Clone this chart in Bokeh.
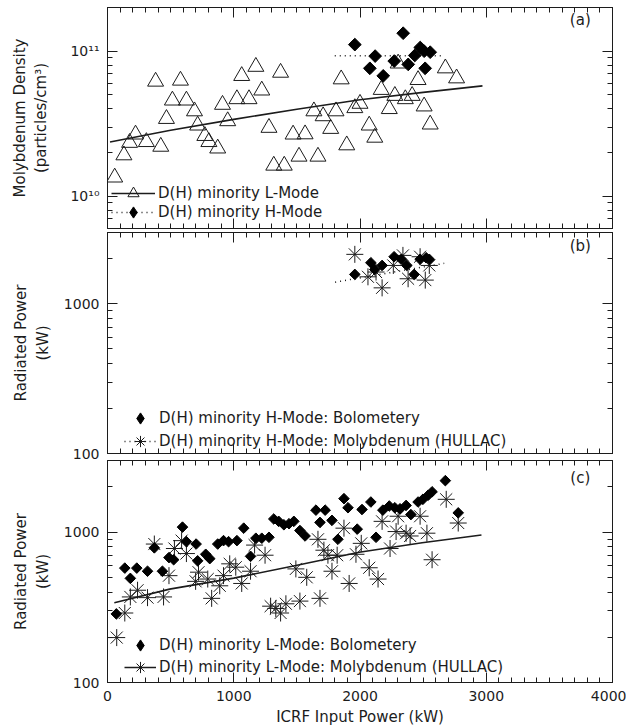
import numpy as np
from bokeh.plotting import figure
from bokeh.layouts import column
from bokeh.models import (Range1d, LogAxis, LinearAxis, FixedTicker, Legend,
                          LegendItem, Label)
from bokeh.embed import file_html
from bokeh.resources import INLINE

# ---------------- data ----------------
# panel (a): molybdenum density
a_lmode_x = [57, 130, 175, 222, 308, 422, 381, 467, 514, 578, 625, 689, 714, 771, 803,
             873, 911, 952, 1025, 1063, 1121, 1175, 1222, 1279, 1317, 1400, 1371, 1470,
             1517, 1565, 1635, 1667, 1708, 1768, 1810, 1851, 1895, 1959, 2000, 2073,
             2117, 2168, 2232, 2276, 2302, 2359, 2413, 2460, 2508, 2556, 2676, 2765]
a_lmode_y = [1.35e10, 1.92e10, 2.34e10, 2.67e10, 2.37e10, 2.20e10, 6.18e10, 3.42e10,
             4.58e10, 6.28e10, 4.58e10, 3.86e10, 3.08e10, 2.61e10, 2.37e10, 2.14e10,
             4.28e10, 3.30e10, 4.68e10, 6.76e10, 4.68e10, 7.82e10, 5.37e10, 2.97e10,
             1.63e10, 1.63e10, 7.12e10, 2.67e10, 1.88e10, 2.68e10, 3.86e10, 1.88e10,
             3.57e10, 2.92e10, 3.86e10, 6.41e10, 2.25e10, 4.06e10, 4.35e10, 3.08e10,
             2.54e10, 5.42e10, 4.0e10, 4.93e10, 8.24e10, 4.68e10, 4.93e10, 6.34e10,
             4.17e10, 3.13e10, 7.63e10, 6.51e10]
a_hmode_x = [1959, 2078, 2120, 2184, 2271, 2342, 2382, 2434, 2477, 2508, 2516, 2556]
a_hmode_y = [1.11e11, 7.62e10, 9.25e10, 6.76e10, 8.55e10, 1.33e11, 8.11e10, 9.34e10,
             1.06e11, 1.0e11, 7.62e10, 9.84e10]
a_lfit_x = [20, 500, 1000, 1500, 2000, 2500, 2970]
a_lfit_y = [2.37e10, 2.85e10, 3.39e10, 3.98e10, 4.63e10, 5.2e10, 5.77e10]
a_hfit_x = [1800, 2640]
a_hfit_y = [9.3e10, 9.3e10]

# panel (b): H-mode radiated power
b_bolo_x = [1959, 2086, 2117, 2175, 2270, 2327, 2371, 2429, 2476, 2524, 2549]
b_bolo_y = [1574, 1884, 1698, 1807, 2066, 1986, 1807, 1574, 1986, 2036, 1986]
b_hull_x = [1959, 2063, 2127, 2175, 2264, 2340, 2381, 2476, 2517, 2549]
b_hull_y = [2143, 1517, 1633, 1280, 1807, 2109, 1472, 2066, 1442, 1807]
b_fit_x = [1803, 2667]
b_fit_y = [1397, 1866]

# panel (c): L-mode radiated power
c_bolo_x = [70, 137, 181, 232, 317, 371, 435, 487, 524, 594, 625, 702, 714, 778, 810,
            873, 919, 959, 1025, 1079, 1133, 1175, 1222, 1279, 1317, 1356, 1397, 1438,
            1476, 1524, 1565, 1651, 1683, 1724, 1778, 1825, 1873, 1905, 1978, 2016,
            2086, 2127, 2181, 2232, 2276, 2317, 2365, 2403, 2460, 2498, 2540, 2571,
            2676, 2778]
c_bolo_y = [286, 577, 493, 577, 550, 787, 550, 678, 656, 1081, 865, 834, 645, 713, 667,
            834, 879, 865, 879, 1064, 691, 912, 912, 925, 1225, 1181, 1121, 1139, 1181,
            1026, 944, 1402, 1162, 1402, 1199, 897, 1672, 1455, 1048, 1416, 1588, 925,
            1402, 1494, 1455, 1432, 1507, 1310, 1588, 1655, 1762, 1857, 2204, 1345]
c_hull_x = [73, 137, 181, 238, 317, 371, 444, 487, 530, 587, 625, 698, 721, 794, 825,
            889, 919, 968, 1016, 1063, 1133, 1165, 1248, 1292, 1333, 1371, 1413, 1492,
            1524, 1578, 1667, 1683, 1714, 1746, 1778, 1819, 1873, 1914, 1968, 2010,
            2073, 2143, 2175, 2238, 2286, 2302, 2365, 2397, 2476, 2530, 2571, 2683, 2778]
c_hull_y = [199, 290, 371, 411, 367, 834, 371, 514, 779, 879, 721, 471, 542, 488, 363,
            440, 514, 616, 585, 456, 550, 821, 703, 322, 311, 290, 334, 570, 348, 501,
            897, 363, 759, 703, 550, 703, 1064, 456, 713, 843, 580, 488, 1181, 779, 1010,
            1277, 985, 944, 1277, 985, 656, 1655, 1151]
c_fit_x = [54, 492, 1000, 1492, 1994, 2492, 2962]
c_fit_y = [339, 418, 495, 601, 736, 851, 959]

x_ticks = [0, 1000, 2000, 3000, 4000]
x_tick_labels = ["0", "1000", "2000", "3000", "4000"]
a_ticks = [1e10, 1e11]
a_tick_labels = ["10\u00b9\u2070", "10\u00b9\u00b9"]
p_ticks = [100, 1000]
p_tick_labels = ["100", "1000"]

# ---------------- styling ----------------
FONT = "DejaVu Sans"
INK = "#1c1c1c"
TICK_FS = "14px"
TEXT_FS = "15px"
KEY_H = 28

x_minor = [v for v in range(0, 4001, 100) if v % 1000]


def log_minor(lo, hi):
    out = []
    dec = 10.0 ** np.floor(np.log10(lo))
    while dec <= hi:
        for k in range(2, 10):
            v = k * dec
            if lo <= v <= hi:
                out.append(v)
        dec *= 10
    return out


def style_axis(ax, show_labels, ticks=None, labels=None):
    ax.major_tick_in = 10
    ax.major_tick_out = 0
    ax.minor_tick_in = 5
    ax.minor_tick_out = 0
    ax.axis_line_color = INK
    ax.major_tick_line_color = INK
    ax.minor_tick_line_color = INK
    ax.major_label_text_font = FONT
    ax.major_label_text_color = INK
    ax.axis_label_text_font = FONT
    ax.axis_label_text_font_style = "normal"
    ax.axis_label_text_font_size = TEXT_FS
    ax.axis_label_text_color = INK
    if show_labels:
        ax.major_label_text_font_size = TICK_FS
        ax.major_label_standoff = 8
        ax.major_label_overrides = {t: l for t, l in zip(ticks, labels)}
    else:
        ax.major_label_text_font_size = "1px"
        ax.major_label_text_alpha = 0
        ax.major_label_standoff = 0


xr = Range1d(0, 4000)
x_ticker = FixedTicker(ticks=x_ticks, minor_ticks=x_minor)


def make_fig(yr, ticks, tick_labels, ylabel, show_x, fh, top, bottom, ystand):
    lo, hi = yr.start, yr.end
    yt = FixedTicker(ticks=ticks, minor_ticks=log_minor(lo, hi))
    p = figure(frame_width=505, frame_height=fh, x_range=xr, y_range=yr,
               y_axis_type="log", output_backend="svg", toolbar_location=None,
               min_border_left=107, min_border_right=14, min_border_top=top,
               min_border_bottom=bottom, background_fill_color="white",
               border_fill_color="white")
    p.grid.visible = False
    p.outline_line_color = INK
    p.yaxis.ticker = yt
    style_axis(p.yaxis[0], True, ticks, tick_labels)
    p.yaxis.axis_label = ylabel
    p.yaxis.axis_label_standoff = ystand
    p.xaxis.ticker = x_ticker
    style_axis(p.xaxis[0], show_x, x_ticks, x_tick_labels)
    if show_x:
        p.xaxis.axis_label = "ICRF Input Power (kW)"
        p.xaxis.axis_label_standoff = 4
    ra = LogAxis(ticker=yt)
    style_axis(ra, False)
    p.add_layout(ra, "right")
    ta = LinearAxis(ticker=x_ticker)
    style_axis(ta, False)
    p.add_layout(ta, "above")
    return p


def add_key(p, label, renderers, x, y_center, gw):
    # one legend per entry so that each row can be placed like the original
    p.add_layout(Legend(items=[LegendItem(label=label, renderers=renderers)],
                        location=(x, y_center - KEY_H // 2), border_line_alpha=0,
                        background_fill_alpha=0, padding=0, margin=0, spacing=0,
                        glyph_width=gw, glyph_height=KEY_H, label_height=KEY_H,
                        label_standoff=3, label_text_font=FONT,
                        label_text_font_size=TEXT_FS, label_text_color=INK))


def panel_label(p, text, y):
    p.add_layout(Label(x=3745, y=y, text=text, text_align="center",
                       text_baseline="middle", text_font=FONT,
                       text_font_size=TEXT_FS, text_color=INK))


def diamond_key(p):
    # legend-only key glyph: a single undefined point that is never drawn
    return p.scatter([np.nan], [np.nan], marker="diamond", size=10,
                     fill_color="black", line_color="black")


# ---------------- panel (a) ----------------
pa = make_fig(Range1d(6e9, 2e11), a_ticks, a_tick_labels,
              "Molybdenum Density\n(particles/cm\u00b3)", False, 221, 7, 2, 17)
la = pa.line(a_lfit_x, a_lfit_y, line_color=INK, line_width=1.6)
ha = pa.line(a_hfit_x, a_hfit_y, line_color=INK, line_width=1.5, line_dash="1 4")
ta_r = pa.scatter(a_lmode_x, a_lmode_y, marker="triangle", size=16,
                  fill_alpha=0, line_color=INK, line_width=1)
da_r = pa.scatter(a_hmode_x, a_hmode_y, marker="square", angle=np.pi / 4, size=9,
                  fill_color="black", line_color="black")
ka = diamond_key(pa)
add_key(pa, "D(H) minority L-Mode", [la, ta_r], 4, 35, 44)
add_key(pa, "D(H) minority H-Mode", [ha, ka], 4, 16, 44)
panel_label(pa, "(a)", 1.63e11)

# ---------------- panel (b) ----------------
pb = make_fig(Range1d(100, 3000), p_ticks, p_tick_labels,
              "Radiated Power\n(kW)", False, 221, 2, 7, 9)
fb = pb.line(b_fit_x, b_fit_y, line_color=INK, line_width=1.5, line_dash="1 4")
sb = pb.scatter(b_hull_x, b_hull_y, marker="asterisk", size=17, line_color=INK,
                line_width=1)
db = pb.scatter(b_bolo_x, b_bolo_y, marker="square", angle=np.pi / 4, size=7.5,
                fill_color="black", line_color="black")
kb = diamond_key(pb)
add_key(pb, "D(H) minority H-Mode: Bolometery", [kb], 17, 35, 32)
add_key(pb, "D(H) minority H-Mode: Molybdenum (HULLAC)", [fb, sb], 17, 12, 32)
panel_label(pb, "(b)", 2420)

# ---------------- panel (c) ----------------
pc = make_fig(Range1d(100, 3000), p_ticks, p_tick_labels,
              "Radiated Power\n(kW)", True, 222, 0, 0, 9)
fc = pc.line(c_fit_x, c_fit_y, line_color=INK, line_width=1.6)
sc = pc.scatter(c_hull_x, c_hull_y, marker="asterisk", size=17, line_color=INK,
                line_width=1)
dc = pc.scatter(c_bolo_x, c_bolo_y, marker="square", angle=np.pi / 4, size=7.5,
                fill_color="black", line_color="black")
kc = diamond_key(pc)
add_key(pc, "D(H) minority L-Mode: Bolometery", [kc], 17, 37, 32)
add_key(pc, "D(H) minority L-Mode: Molybdenum (HULLAC)", [fc, sc], 17, 15, 32)
panel_label(pc, "(c)", 2280)

layout = column(pa, pb, pc, spacing=0)
open("out.html", "w").write(file_html(layout, INLINE))
